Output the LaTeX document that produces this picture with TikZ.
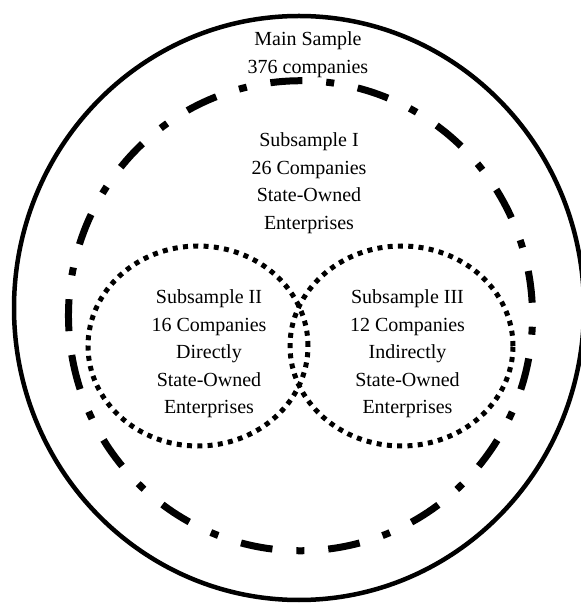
\documentclass[tikz,border=0pt]{standalone}
\usepackage{fontspec}
\setmainfont{Liberation Serif}
\begin{document}
\begin{tikzpicture}[x=1pt,y=1pt,
  label text/.style={align=center,inner sep=0pt,font=\fontsize{20}{27.5}\selectfont},
  dashdot ring/.style={line width=7,dash pattern=on 32 off 24 on 8 off 24},
  dot ring/.style={line width=5,dash pattern=on 5 off 5.3}]
\useasboundingbox (0,0) rectangle (581,603);
\coordinate (mainc) at (299,295);
\coordinate (subIc) at (300.5,287.25);
\coordinate (subIIc) at (198,257);
\coordinate (subIIIc) at (401.5,257);
% main sample
\draw[line width=4.5] (mainc) ellipse [x radius=285,y radius=292];
\node[label text,font=\fontsize{20}{28}\selectfont] (main) at (308,548) {Main Sample\\376 companies};
% subsample I
\draw[dashdot ring] ([shift={(190.4:232 and 235)}]subIc)
  arc [start angle=190.4,end angle=550.4,x radius=232,y radius=235];
\node[label text] (subI) at (309,420) {Subsample I\\26 Companies\\State-Owned\\Enterprises};
% subsamples II and III
\draw[dot ring] (subIIc) ellipse [x radius=110,y radius=100];
\draw[dot ring] (subIIIc) ellipse [x radius=111.5,y radius=100];
\node[label text] (subII) at (209,249) {Subsample II\\16 Companies\\Directly\\State-Owned\\Enterprises};
\node[label text] (subIII) at (407.5,249) {Subsample III\\12 Companies\\Indirectly\\State-Owned\\Enterprises};
\end{tikzpicture}
\end{document}
